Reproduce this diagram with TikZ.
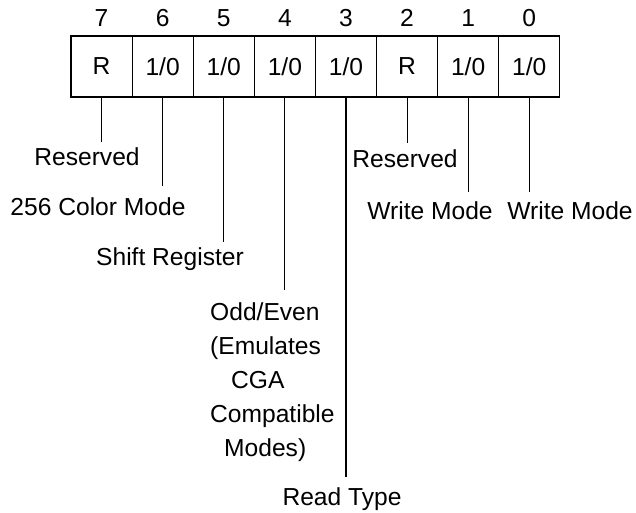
\documentclass[tikz,border=0pt]{standalone}
\usepackage{fontspec}
\setmainfont{Liberation Sans}
\begin{document}
\begin{tikzpicture}[x=1pt,y=-1pt,
  every node/.style={font=\fontsize{24.6}{34}\selectfont, inner sep=0pt},
  bitbox/.style={draw, line width=1.1pt, minimum width=61.1pt, minimum height=61pt},
  lead/.style={line width=1.1pt},
  lbl/.style={anchor=base}]
\useasboundingbox (0,0) rectangle (636,512);
% register boxes
\node[bitbox] (b7) at (101.55,66.5) {R};
\node[bitbox] (b6) at (162.65,66.5) {1/0};
\node[bitbox] (b5) at (223.75,66.5) {1/0};
\node[bitbox] (b4) at (284.85,66.5) {1/0};
\node[bitbox] (b3) at (345.95,66.5) {1/0};
\node[bitbox] (b2) at (407.05,66.5) {R};
\node[bitbox] (b1) at (468.15,66.5) {1/0};
\node[bitbox] (b0) at (529.25,66.5) {1/0};
% bit numbers
\node[lbl] (n7) at (101.55,26) {7};
\node[lbl] (n6) at (162.65,26) {6};
\node[lbl] (n5) at (223.75,26) {5};
\node[lbl] (n4) at (284.85,26) {4};
\node[lbl] (n3) at (345.95,26) {3};
\node[lbl] (n2) at (407.05,26) {2};
\node[lbl] (n1) at (468.15,26) {1};
\node[lbl] (n0) at (529.25,26) {0};
% leader end points
\coordinate (e7) at (101.55,142);
\coordinate (e6) at (162.65,186);
\coordinate (e5) at (223.75,242);
\coordinate (e4) at (284.85,290);
\coordinate (e3) at (345.95,477);
\coordinate (e2) at (407.05,143);
\coordinate (e1) at (468.15,192);
\coordinate (e0) at (529.25,192);
\foreach \i in {7,6,5,4,3,2,1,0}{\draw[lead] (b\i.south) -- (e\i);}
% labels
\node[lbl] (l7) at (87,165) {Reserved};
\node[lbl] (l6) at (98,215) {256 Color Mode};
\node[lbl] (l5) at (170,265) {Shift Register};
\node[anchor=base west, align=left, font=\fontsize{24.6}{33.8}\selectfont] (l4) at (210,456)
  {Odd/Even\\(Emulates\\\hspace*{21pt}CGA\\Compatible\\\hspace*{14pt}Modes)};
\node[lbl] (l3) at (342,505) {Read Type};
\node[lbl] (l2) at (405,167) {Reserved};
\node[lbl] (l1) at (430,219) {Write Mode};
\node[lbl] (l0) at (570,219) {Write Mode};
\end{tikzpicture}
\end{document}
